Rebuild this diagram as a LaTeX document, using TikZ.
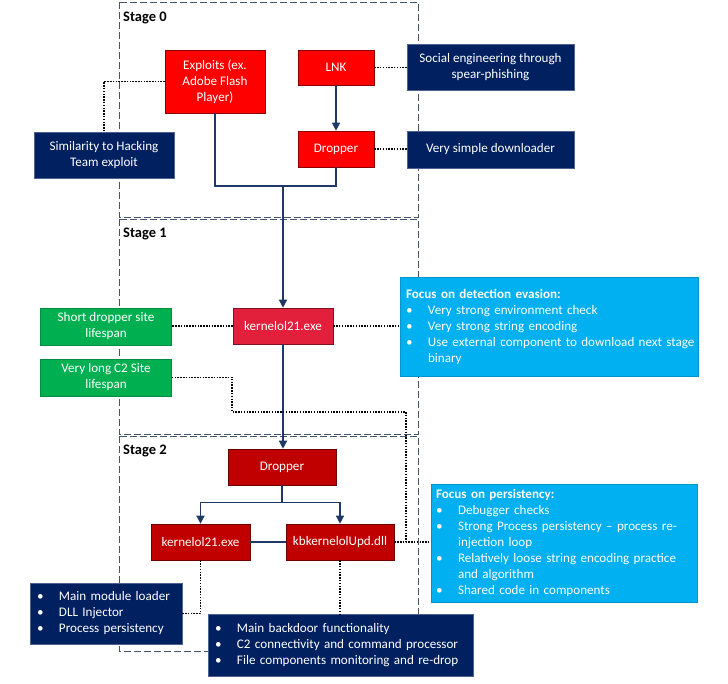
\documentclass[tikz,border=0pt]{standalone}
\usepackage{fontspec}
\setmainfont{Carlito}
\usepackage{tikz}
\usetikzlibrary{arrows.meta,positioning,calc}
\usepackage{xcolor}
\definecolor{navyblue}{HTML}{002060}
\definecolor{linenavy}{HTML}{1F3864}
\definecolor{brightred}{HTML}{FF0000}
\definecolor{kernred}{HTML}{E2203C}
\definecolor{deepred}{HTML}{C00000}
\definecolor{leafgreen}{HTML}{00B050}
\definecolor{skyblue}{HTML}{00B0F0}
\definecolor{stagegray}{HTML}{44546A}
\newcommand{\blt}[1]{\mbox{\makebox[22pt][l]{\textbullet}#1}}

\begin{document}
\begin{tikzpicture}[x=1pt, y=-1pt,
  base/.style={draw, line width=0.6pt, text=white, align=center, inner sep=3pt, font=\fontsize{13.1}{16}\selectfont},
  redbox/.style={base, fill=brightred, draw=brightred!55!black},
  kernbox/.style={base, fill=kernred, draw=kernred!55!black},
  darkbox/.style={base, fill=deepred, draw=deepred!55!black},
  navybox/.style={base, fill=navyblue, draw=navyblue!70!white},
  greenbox/.style={base, fill=leafgreen, draw=leafgreen!80!black},
  cyanbox/.style={base, fill=skyblue, draw=skyblue!85!black, align=left, inner xsep=6pt},
  listbox/.style={align=left, inner xsep=7pt},
  stagebox/.style={draw=stagegray, line width=0.9pt, dash pattern=on 7pt off 3pt},
  stagelbl/.style={anchor=north west, inner sep=0pt, font=\fontsize{14.5}{17}\selectfont\bfseries},
  arr/.style={-{Triangle[length=8pt,width=8pt]}, line width=1.3pt, color=linenavy},
  link/.style={line width=1.3pt, color=linenavy},
  dot/.style={line width=1.2pt, dash pattern=on 1.5pt off 1.3pt},
]
\useasboundingbox (0,0) rectangle (728,684);
\fill[white] (0,0) rectangle (728,684);

% ─── Stage frames ───
\draw[stagebox] (119,2) rectangle (418,217);
\draw[stagebox] (119,219) rectangle (418,434);
\draw[stagebox] (119,436) rectangle (418,651);
\node[stagelbl] (st0) at (123,12) {Stage 0};
\node[stagelbl] (st1) at (123,228) {Stage 1};
\node[stagelbl] (st2) at (123,445) {Stage 2};

% ─── Stage 0 ───
\node[redbox, minimum width=100pt, minimum height=63pt] (expl) at (215,81.5) {Exploits (ex.\\Adobe Flash\\Player)};
\node[redbox, minimum width=76pt, minimum height=35pt] (lnk) at (336,67.5) {LNK};
\node[redbox, minimum width=76pt, minimum height=36pt] (drop0) at (336,149) {Dropper};
\node[navybox, minimum width=140pt, minimum height=46pt] (simil) at (104,155) {Similarity to Hacking\\Team exploit};
\node[navybox, minimum width=167pt, minimum height=46pt] (social) at (490.5,67) {Social engineering through\\spear-phishing};
\node[navybox, minimum width=167pt, minimum height=37pt] (simple) at (490.5,149.5) {Very simple downloader};
\coordinate (join) at (283,186);

\draw[arr] (lnk) -- (drop0);
\draw[link] (expl.south) |- (join);
\draw[link] (drop0.south) |- (join);
\draw[dot] (expl.west) -| (simil.north);
\draw[dot] (lnk.east) -- (lnk.east -| social.west);
\draw[dot] (drop0.east) -- (drop0.east -| simple.west);

% ─── Stage 1 ───
\node[kernbox, minimum width=100pt, minimum height=36pt] (kern1) at (283,326) {kernelol21.exe};
\node[greenbox, minimum width=131pt, minimum height=37pt] (shortd) at (106,326.5) {Short dropper site\\lifespan};
\node[greenbox, minimum width=131pt, minimum height=37pt] (longc2) at (106,377.5) {Very long C2 Site\\lifespan};
\node[cyanbox, text width=286pt, minimum height=99pt] (evasion) at (549,326.5) {\textbf{Focus on detection evasion:}\\
  \blt{Very strong environment check}\\
  \blt{Very strong string encoding}\\
  \blt{Use external component to download next stage}\\
  \hspace*{22pt}binary};

\draw[arr] (join) -- (kern1.north);
\draw[dot] (kern1.west) -- (kern1.west -| shortd.east);
\draw[dot] (kern1.east) -- (kern1.east -| evasion.west);

% ─── Stage 2 ───
\node[darkbox, minimum width=108pt, minimum height=36pt] (drop2) at (282,467) {Dropper};
\node[darkbox, minimum width=99pt, minimum height=36pt] (kern2) at (200.5,542) {kernelol21.exe};
\node[darkbox, minimum width=108pt, minimum height=36pt] (kbk) at (340,542) {kbkernelolUpd.dll};
\node[cyanbox, text width=256pt, inner xsep=5pt, minimum height=118pt] (persist) at (564,543) {\textbf{Focus on persistency:}\\
  \blt{Debugger checks}\\
  \blt{Strong Process persistency -- process re-}\\
  \hspace*{22pt}injection loop\\
  \blt{Relatively loose string encoding practice}\\
  \hspace*{22pt}and algorithm\\
  \blt{Shared code in components}};
\node[navybox, listbox, text width=138pt, minimum height=61pt] (loader) at (106,613.5) {\blt{Main module loader}\\
  \blt{DLL Injector}\\
  \blt{Process persistency}};
\node[navybox, listbox, text width=251pt, minimum height=62pt] (backdoor) at (340.5,645.5) {\blt{Main backdoor functionality}\\
  \blt{C2 connectivity and command processor}\\
  \blt{File components monitoring and re-drop}};
\coordinate (c2bend) at (232,412);
\coordinate (c2side) at (406,412);

\draw[arr] (kern1.south) -- (kern1.south |- drop2.north);
\draw[arr] (drop2.south) -- ++(0,17) -| (kern2.north);
\draw[arr] (drop2.south) -- ++(0,17) -| (kbk.north);
\draw[link] (kern2) -- (kbk);
\draw[dot] (longc2.east) -| (c2bend) -- (c2side) |- (kbk.east);
\draw[dot] (kbk.east) -- (kbk.east -| persist.west);
\draw[dot] (kern2.south) |- (loader.east);
\draw[dot] (kbk.south) -- (kbk.south |- backdoor.north);

\end{tikzpicture}
\end{document}
